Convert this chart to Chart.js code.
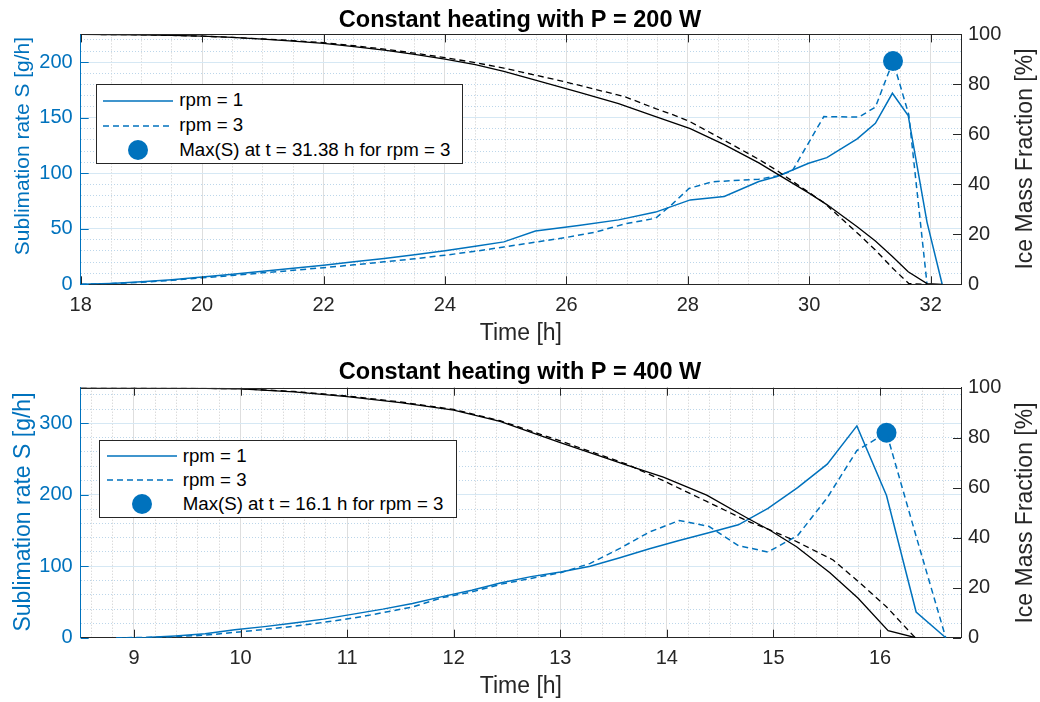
<!DOCTYPE html>
<html><head><meta charset="utf-8">
<script src="https://cdn.jsdelivr.net/npm/chart.js@4.4.0/dist/chart.umd.min.js"></script>
<style>
html,body{margin:0;padding:0;background:#fff;overflow:hidden;}
#wrap{position:relative;width:1040px;height:702px;font-family:"Liberation Sans",Arial,Helvetica,sans-serif;}
canvas{position:absolute;left:0;}
.ylab{position:absolute;white-space:nowrap;transform:translate(-50%,-50%) rotate(-90deg);line-height:1;}
.legend{position:absolute;border:1px solid #262626;background:#fff;box-sizing:border-box;}
.lrow{position:absolute;white-space:nowrap;color:#000;line-height:1;}
.lsvg{position:absolute;overflow:visible;}
</style></head>
<body><div id="wrap">
<canvas id="c1" width="1040" height="351" style="top:0px"></canvas>
<canvas id="c2" width="1040" height="351" style="top:351px"></canvas>
</div>
<script>
// ---------------- DATA : P = 200 W ----------------
const p200_title = 'Constant heating with P = 200 W';
const p200_time_rpm1 = [18, 18.5, 19, 19.5, 20, 20.5, 21, 21.5, 22, 22.5, 23, 23.5, 24, 24.5, 24.97, 25.49, 26.2, 26.86, 27.47, 28.04, 28.6, 29.17, 29.47, 29.99, 30.29, 30.79, 31.09, 31.37, 31.63, 31.94, 32.19];
const p200_S_rpm1 = [0, 0.8, 2.2, 4.2, 6.6, 9, 11.7, 14.4, 17.2, 20.2, 23.3, 26.6, 30.3, 34.2, 38.2, 48, 53, 58, 65, 76, 79, 92.5, 97, 109, 114, 131, 145, 172, 152, 56, 0];
const p200_ice_rpm1 = [100, 99.95, 99.85, 99.6, 99.3, 98.8, 98.1, 97.3, 96.4, 95.1, 93.7, 92, 90.1, 87.9, 85.2, 81.7, 76.9, 72.3, 67.1, 62.3, 55.9, 48.6, 44.2, 36.6, 31.9, 23, 17.3, 11.1, 5, 0.3, 0];
const p200_time_rpm3 = [18, 18.5, 19, 19.5, 20, 20.5, 21, 21.5, 22, 22.5, 23, 23.5, 24, 24.5, 24.97, 25.49, 25.98, 26.48, 26.97, 27.47, 27.74, 28.02, 28.4, 29.17, 29.47, 29.72, 30.24, 30.82, 31.09, 31.38, 31.64, 31.94];
const p200_S_rpm3 = [0, 0.7, 1.8, 3.6, 5.8, 8, 10.3, 12.6, 15, 17.5, 20.2, 23, 26.2, 29.7, 33.6, 38, 42, 47, 54.5, 59.5, 72, 86.3, 92.3, 94.6, 97.6, 102, 151, 150.6, 159.5, 201, 152.7, 0.5];
const p200_ice_rpm3 = [100, 99.95, 99.85, 99.6, 99.3, 98.8, 98.2, 97.5, 96.7, 95.5, 94.1, 92.5, 90.7, 88.7, 86.5, 83.7, 81, 78, 75, 70.3, 68, 65.3, 60.3, 50, 45.5, 41.3, 32.7, 19.9, 13.7, 6.3, 0.3, 0];
const p200_maxT = 31.38;
const p200_maxS = 201;
const p200_xTicks = [18, 20, 22, 24, 26, 28, 30, 32];
const p200_yTicks = [0, 50, 100, 150, 200];
const p200_legend = ['rpm = 1', 'rpm = 3', 'Max(S) at t = 31.38 h for rpm = 3'];

// ---------------- DATA : P = 400 W ----------------
const p400_title = 'Constant heating with P = 400 W';
const p400_time = [8.833, 9.111, 9.389, 9.667, 9.945, 10.223, 10.501, 10.779, 11.057, 11.335, 11.613, 11.891, 12.169, 12.447, 12.725, 13.003, 13.281, 13.559, 13.837, 14.115, 14.393, 14.671, 14.949, 15.227, 15.505, 15.783, 16.061, 16.339, 16.617];
const p400_S_rpm1 = [0, 0.4, 2.5, 5.5, 11, 15.5, 20.5, 26, 33, 40, 48, 57.5, 66.5, 77, 85.5, 92, 100, 112, 124.5, 136, 147, 158, 181, 210, 243, 296.5, 199, 36, 0];
const p400_S_rpm3 = [0, 0.2, 1.5, 3.5, 7.5, 11.5, 16, 21.5, 27.5, 35, 43, 56, 64, 75, 83, 91, 104, 125, 148, 164, 156, 129, 120, 143, 196, 262, 287, 142, 0];
const p400_iceTime_rpm1 = [8.5, 9, 9.5, 10, 10.5, 11, 11.5, 12, 12.435, 13.0, 13.624, 13.967, 14.374, 14.749, 14.967, 15.217, 15.53, 15.795, 16.076, 16.335];
const p400_ice_rpm1 = [100, 99.9, 99.8, 99.5, 98.3, 96.4, 94, 91, 86.5, 78, 69, 64.2, 57, 48, 43, 36.4, 26, 15.8, 2.8, 0];
const p400_iceTime_rpm3 = [8.5, 9, 9.5, 10, 10.5, 11, 11.5, 12, 12.435, 13.0, 13.624, 13.967, 14.374, 14.749, 14.967, 15.186, 15.56, 15.78, 16.06, 16.33];
const p400_ice_rpm3 = [100, 99.9, 99.8, 99.6, 98.5, 96.7, 94.3, 91.3, 86.8, 78.7, 69.4, 62.8, 54.5, 46.8, 43.1, 39.1, 31.1, 23.1, 12.4, 0];
const p400_maxT = 16.061;
const p400_maxS = 287;
const p400_xTicks = [9, 10, 11, 12, 13, 14, 15, 16];
const p400_yTicks = [0, 100, 200, 300];
const p400_legend = ['rpm = 1', 'rpm = 3', 'Max(S) at t = 16.1 h for rpm = 3'];

const ice_yTicks = [0, 20, 40, 60, 80, 100];
const leftTitle = 'Sublimation rate S [g/h]';
const rightTitle = 'Ice Mass Fraction [%]';
const xTitle = 'Time [h]';

// ---------------- STYLE ----------------
const BLUE = '#0072BD', AX = '#262626';
const FONT = '"Liberation Sans", Arial, Helvetica, sans-serif';

function pts(xs, ys) { return xs.map((x, i) => ({x: x, y: ys[i]})); }

const inwardTicks = {
  id: 'inwardTicks',
  afterDraw(chart) {
    const {ctx, chartArea: a, scales} = chart;
    const L = 8;
    ctx.save();
    ctx.lineWidth = 1;
    ctx.strokeStyle = AX;
    ctx.beginPath();
    ctx.moveTo(a.left, Math.round(a.top) + 0.5); ctx.lineTo(a.right, Math.round(a.top) + 0.5);
    ctx.stroke();
    scales.x.ticks.forEach(t => {
      const px = Math.round(scales.x.getPixelForValue(t.value)) + 0.5;
      ctx.beginPath();
      ctx.moveTo(px, a.bottom); ctx.lineTo(px, a.bottom - L);
      ctx.moveTo(px, a.top); ctx.lineTo(px, a.top + L);
      ctx.stroke();
    });
    ctx.strokeStyle = BLUE;
    scales.y.ticks.forEach(t => {
      const py = Math.round(scales.y.getPixelForValue(t.value)) + 0.5;
      ctx.beginPath(); ctx.moveTo(a.left, py); ctx.lineTo(a.left + L, py); ctx.stroke();
    });
    ctx.strokeStyle = AX;
    scales.y1.ticks.forEach(t => {
      const py = Math.round(scales.y1.getPixelForValue(t.value)) + 0.5;
      ctx.beginPath(); ctx.moveTo(a.right, py); ctx.lineTo(a.right - L, py); ctx.stroke();
    });
    ctx.restore();
  }
};

function minorFilter(major) {
  return s => {
    s.ticks = s.ticks.filter(t => Math.abs(t.value / major - Math.round(t.value / major)) > 1e-6);
  };
}

function build(id, o) {
  return new Chart(document.getElementById(id), {
    type: 'line',
    data: {
      datasets: [
        {label: 'ice rpm = 1', data: pts(o.tI1, o.I1), yAxisID: 'y1', borderColor: '#000', borderWidth: 1.3, pointRadius: 0, tension: 0},
        {label: 'ice rpm = 3', data: pts(o.tI3, o.I3), yAxisID: 'y1', borderColor: '#000', borderWidth: 1.3, borderDash: [6, 4], pointRadius: 0, tension: 0},
        {label: 'rpm = 1', data: pts(o.tS1, o.S1), yAxisID: 'y', borderColor: BLUE, borderWidth: 1.5, pointRadius: 0, tension: 0},
        {label: 'rpm = 3', data: pts(o.tS3, o.S3), yAxisID: 'y', borderColor: BLUE, borderWidth: 1.5, borderDash: [6, 4], pointRadius: 0, tension: 0},
        {label: 'Max', data: [{x: o.maxT, y: o.maxS}], yAxisID: 'y', showLine: false, pointRadius: 10, pointBackgroundColor: BLUE, pointBorderColor: BLUE, pointBorderWidth: 0, clip: false}
      ]
    },
    options: {
      responsive: false, animation: false, devicePixelRatio: 1, events: [],
      layout: {padding: 0},
      plugins: {
        legend: {display: false}, tooltip: {enabled: false},
        title: {display: true, text: o.title, color: '#000', font: {family: FONT, size: 23.5, weight: 'bold', lineHeight: 1.2},
                padding: {top: o.tPadTop, bottom: o.tPadBottom}}
      },
      scales: {
        xm: {type: 'linear', position: 'bottom', min: o.xMin, max: o.xMax,
             ticks: {display: false, stepSize: o.xMinor, includeBounds: false},
             afterBuildTicks: minorFilter(o.xMajor),
             grid: {color: '#cbcbcb', drawTicks: false, lineWidth: 1},
             border: {display: false, dash: [1, 2]},
             afterFit: s => { s.height = 0; }},
        ym: {type: 'linear', position: 'left', min: 0, max: o.yMax,
             ticks: {display: false, stepSize: o.yMinor, includeBounds: false},
             afterBuildTicks: minorFilter(o.yMajor),
             grid: {color: '#bcd6ea', drawTicks: false, lineWidth: 1},
             border: {display: false, dash: [1, 2]},
             afterFit: s => { s.width = 0; }},
        x: {type: 'linear', position: 'bottom', min: o.xMin, max: o.xMax,
            afterBuildTicks: s => { s.ticks = o.xTicks.map(v => ({value: v})); },
            afterFit: s => { s.height = o.xAxisH; },
            ticks: {color: AX, font: {family: FONT, size: 20}, padding: 9, maxRotation: 0, autoSkip: false, includeBounds: false},
            grid: {color: '#dedede', drawTicks: false, lineWidth: 1},
            border: {color: AX, width: 1},
            title: {display: true, text: xTitle, color: AX, font: {family: FONT, size: 23, lineHeight: 1.2}, padding: {top: 0, bottom: o.xTitlePad}}},
        y: {type: 'linear', position: 'left', min: 0, max: o.yMax,
            afterBuildTicks: s => { s.ticks = o.yTicks.map(v => ({value: v})); },
            afterFit: s => { s.width = 80.7; },
            ticks: {color: BLUE, font: {family: FONT, size: 20}, padding: 8, includeBounds: false},
            grid: {color: '#d6e8f4', drawTicks: false, lineWidth: 1},
            border: {color: BLUE, width: 1}},
        y1: {type: 'linear', position: 'right', min: 0, max: 100,
             afterBuildTicks: s => { s.ticks = ice_yTicks.map(v => ({value: v})); },
             afterFit: s => { s.width = 79; },
             ticks: {color: AX, font: {family: FONT, size: 20}, padding: 7},
             grid: {display: false, drawOnChartArea: false, drawTicks: false},
             border: {color: AX, width: 1}}
      }
    },
    plugins: [inwardTicks]
  });
}

build('c1', {
  title: p200_title, tPadTop: 6, tPadBottom: 0.2,
  xMin: 18, xMax: 32.5, xMajor: 2, xMinor: 0.5, xTicks: p200_xTicks, xAxisH: 66.7, xTitlePad: 4,
  yMax: 225, yMajor: 50, yMinor: 10, yTicks: p200_yTicks,
  tS1: p200_time_rpm1, S1: p200_S_rpm1, tI1: p200_time_rpm1, I1: p200_ice_rpm1,
  tS3: p200_time_rpm3, S3: p200_S_rpm3, tI3: p200_time_rpm3, I3: p200_ice_rpm3,
  maxT: p200_maxT, maxS: p200_maxS
});
build('c2', {
  title: p400_title, tPadTop: 7, tPadBottom: 1.5,
  xMin: 8.5, xMax: 16.76, xMajor: 1, xMinor: 0.2, xTicks: p400_xTicks, xAxisH: 64.3, xTitlePad: 2,
  yMax: 350, yMajor: 100, yMinor: 20, yTicks: p400_yTicks,
  tS1: p400_time, S1: p400_S_rpm1, tI1: p400_iceTime_rpm1, I1: p400_ice_rpm1,
  tS3: p400_time, S3: p400_S_rpm3, tI3: p400_iceTime_rpm3, I3: p400_ice_rpm3,
  maxT: p400_maxT, maxS: p400_maxS
});

// ---------------- HTML overlays: axis titles and legends ----------------
const wrap = document.getElementById('wrap');
function ylab(text, cx, cy, size, color) {
  const d = document.createElement('div');
  d.className = 'ylab'; d.textContent = text;
  d.style.left = cx + 'px'; d.style.top = cy + 'px';
  d.style.fontSize = size + 'px'; d.style.color = color;
  wrap.appendChild(d);
}
ylab(leftTitle, 21, 145.5, 21, BLUE);
ylab(rightTitle, 1024, 159.3, 23, AX);
ylab(leftTitle, 22, 512, 23, BLUE);
ylab(rightTitle, 1024, 512.7, 23, AX);

function legend(items, box) {
  const d = document.createElement('div');
  d.className = 'legend';
  d.style.left = box.x + 'px'; d.style.top = box.y + 'px';
  d.style.width = box.w + 'px'; d.style.height = box.h + 'px';
  wrap.appendChild(d);
  const dashes = ['', '6 4', null];
  items.forEach((txt, i) => {
    const cy = box.rows[i] - box.y - 1;
    const sx = box.sx - box.x - 1;
    const svgNS = 'http://www.w3.org/2000/svg';
    const svg = document.createElementNS(svgNS, 'svg');
    svg.setAttribute('class', 'lsvg');
    svg.setAttribute('width', '72'); svg.setAttribute('height', '24');
    svg.style.left = sx + 'px'; svg.style.top = (cy - 12) + 'px';
    if (dashes[i] !== null) {
      const ln = document.createElementNS(svgNS, 'line');
      ln.setAttribute('x1', 0); ln.setAttribute('x2', 70); ln.setAttribute('y1', 12); ln.setAttribute('y2', 12);
      ln.setAttribute('stroke', BLUE); ln.setAttribute('stroke-width', 1.5);
      if (dashes[i]) ln.setAttribute('stroke-dasharray', dashes[i]);
      svg.appendChild(ln);
    } else {
      const c = document.createElementNS(svgNS, 'circle');
      c.setAttribute('cx', 35); c.setAttribute('cy', 12); c.setAttribute('r', 10); c.setAttribute('fill', BLUE);
      svg.appendChild(c);
    }
    d.appendChild(svg);
    const t = document.createElement('div');
    t.className = 'lrow'; t.textContent = txt;
    t.style.fontSize = box.fs + 'px';
    t.style.left = (box.tx - box.x - 1) + 'px';
    t.style.top = (cy - box.fs * 0.5) + 'px';
    d.appendChild(t);
  });
}
legend(p200_legend, {x: 96, y: 84.3, w: 367, h: 80, rows: [100.7, 125.7, 150], sx: 102.7, tx: 179.3, fs: 18.7});
legend(p400_legend, {x: 99, y: 440, w: 357.7, h: 78.3, rows: [456, 480, 504], sx: 106.7, tx: 182.7, fs: 18.7});
</script>
</body></html>
